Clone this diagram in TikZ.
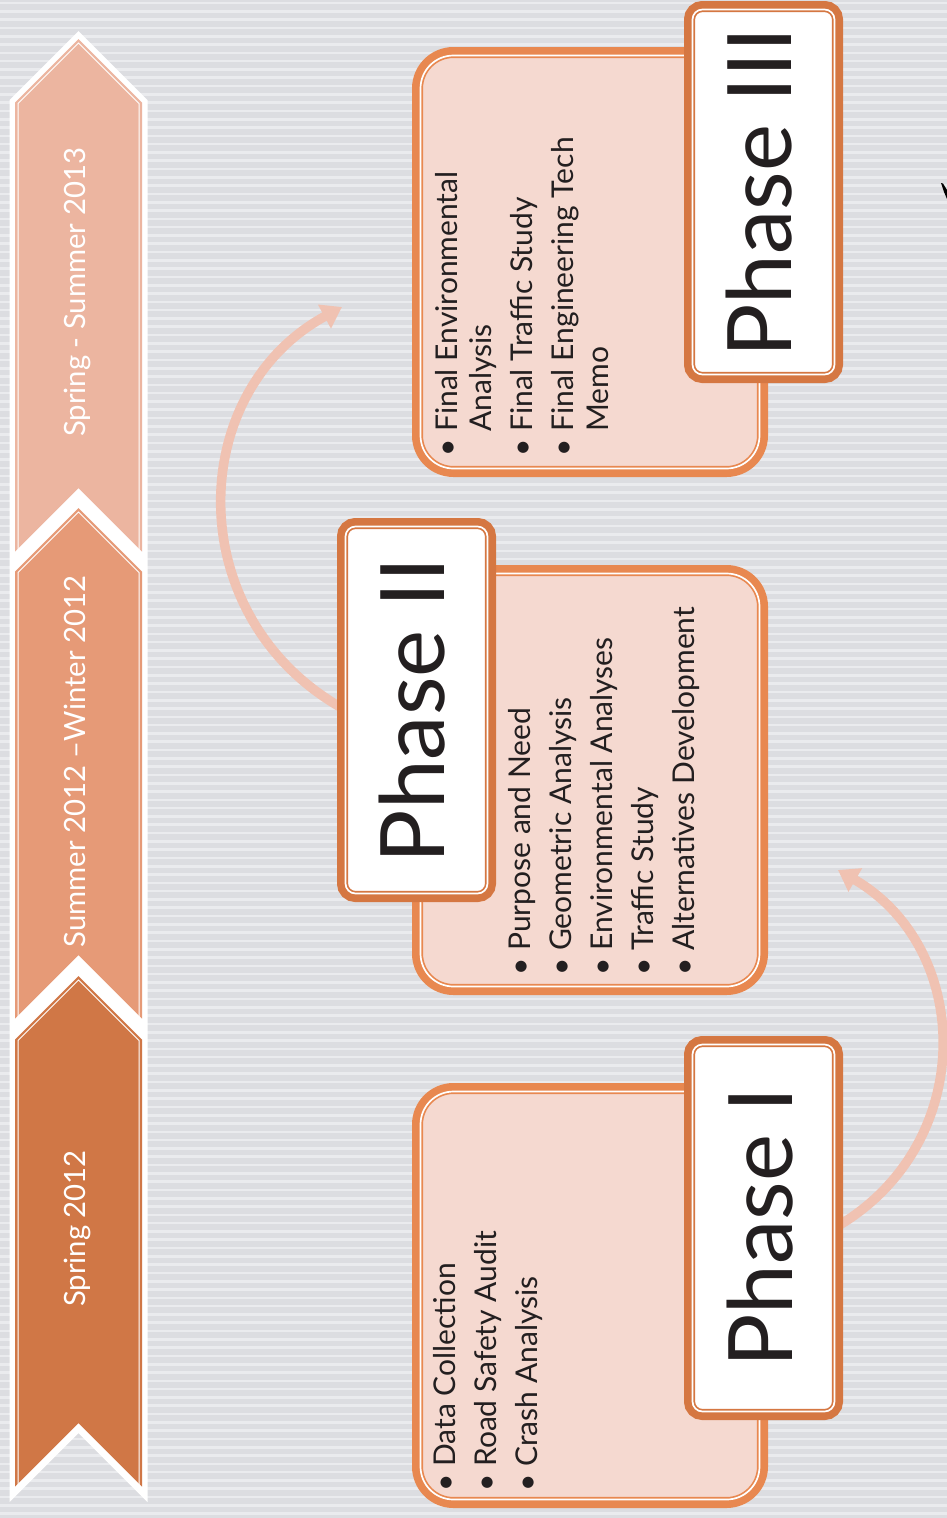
\documentclass[tikz,border=0pt]{standalone}
\usepackage{fontspec}
\setmainfont{Lato}
\usetikzlibrary{arrows.meta}
\definecolor{bggray}{RGB}{220,221,225}
\definecolor{bgstripe}{RGB}{234,235,238}
\definecolor{chevA}{RGB}{236,181,160}
\definecolor{chevB}{RGB}{230,154,119}
\definecolor{chevC}{RGB}{208,119,70}
\definecolor{boxorange}{RGB}{232,136,80}
\definecolor{ttlorange}{RGB}{213,119,66}
\definecolor{boxpink}{RGB}{245,217,208}
\definecolor{arrowpink}{RGB}{240,194,178}
\definecolor{ink}{RGB}{35,31,32}
\pgfdeclarelayer{back}
\pgfdeclarelayer{mid}
\pgfsetlayers{back,mid,main}
\newcommand\bul{\makebox[25pt][l]{\textbullet}}
\begin{document}
\begin{tikzpicture}[x=1pt,y=-1pt,
  contentbox/.style={rectangle, rounded corners=33pt, minimum width=339pt,
    inner sep=0pt, outer sep=0pt, fill=boxpink, draw=boxorange, line width=1.7pt,
    double=white, double distance=1.7pt,
    preaction={draw=boxorange, line width=17pt}},
  titlebox/.style={rectangle, rounded corners=10pt, minimum width=142pt,
    minimum height=367pt, inner sep=0pt, outer sep=0pt, fill=white, draw=ttlorange,
    line width=1.7pt, double=white, double distance=1.7pt,
    preaction={draw=ttlorange, line width=17pt}},
  titletext/.style={rotate=90, anchor=base, inner sep=0pt, text=ink,
    font=\fontsize{89}{89}\selectfont},
  listtext/.style={rotate=90, anchor=base west, inner sep=0pt, text=ink,
    font=\fontsize{30}{30}\selectfont},
  chevtext/.style={rotate=90, anchor=base, inner sep=0pt, text=white,
    font=\fontsize{29.3}{29.3}\selectfont},
  arr/.style={draw=arrowpink, line width=9.5pt, -{Triangle[length=20pt,width=26pt]}}
]
\useasboundingbox (0,0) rectangle (947,1518);
\begin{pgfonlayer}{back}
  \fill[bggray] (0,0) rectangle (947,1518);
  \foreach \i in {0,...,183}
    \draw[bgstripe, line width=2.6pt] (0,{3+8.3*\i}) -- (947,{3+8.3*\i});
  % white column
  \fill[white] (9.5,100) -- (78.5,31) -- (147.5,100) -- (147.5,1502) -- (78.5,1433) -- (9.5,1502) -- cycle;
  % chevron A (top)
  \fill[chevA] (15,102.5) -- (78.5,39) -- (142,102.5) -- (142,551.5) -- (78.5,488) -- (15,551.5) -- cycle;
  \draw[white, line width=1pt] (18,103.5) -- (78.5,43) -- (139,103.5) -- (139,552.5) -- (78.5,492) -- (18,552.5) -- cycle;
  % chevron B (middle)
  \fill[chevB] (15,571.5) -- (78.5,508) -- (142,571.5) -- (142,1018.5) -- (78.5,955) -- (15,1018.5) -- cycle;
  \draw[white, line width=1pt] (18,572.5) -- (78.5,512) -- (139,572.5) -- (139,1019.5) -- (78.5,959) -- (18,1019.5) -- cycle;
  % chevron C (bottom)
  \fill[chevC] (15,1039.5) -- (78.5,976) -- (142,1039.5) -- (142,1486.5) -- (78.5,1423) -- (15,1486.5) -- cycle;
  \draw[white, line width=1pt] (18,1040.5) -- (78.5,980) -- (139,1040.5) -- (139,1487.5) -- (78.5,1427) -- (18,1487.5) -- cycle;
  % fragment at right edge
  \fill[black] (941,183) -- (943,183.5) -- (947,190) -- (947,199) -- (944,192) -- cycle;
\end{pgfonlayer}

\node[chevtext] (c3) at (85,292.5) {Spring - Summer 2013};
\node[chevtext] (c2) at (85,761.5) {Summer 2012 –Winter 2012};
\node[chevtext] (c1) at (85,1228.5) {Spring 2012};

% content boxes
\node[contentbox, minimum height=408pt] (P1) at (590,1295.5) {};
\node[contentbox, minimum height=413pt] (P2) at (590,780) {};
\node[contentbox, minimum height=413pt] (P3) at (590,262) {};

% title boxes
\node[titlebox] (T1) at (763.5,1228) {};
\node[titlebox] (T2) at (416.5,710) {};
\node[titlebox, minimum height=365pt] (T3) at (763.5,192) {};

\node[titletext] (t1) at (792,1227.5) {Phase I};
\node[titletext] (t2) at (444,710.5) {Phase II};
\node[titletext] (t3) at (791,192.5) {Phase III};

% lists
\node[listtext] (l11) at (455,1492) {\bul Data Collection};
\node[listtext] (l12) at (496,1492) {\bul Road Safety Audit};
\node[listtext] (l13) at (537,1492) {\bul Crash Analysis};

\node[listtext] (l21) at (530,976) {\bul Purpose and Need};
\node[listtext] (l22) at (571,976) {\bul Geometric Analysis};
\node[listtext] (l23) at (612,976) {\bul Environmental Analyses};
\node[listtext] (l24) at (653,976) {\bul Traffic Study};
\node[listtext] (l25) at (694,976) {\bul Alternatives Development};

\node[listtext] (l31) at (457,457) {\bul Final Environmental};
\node[listtext] (l32) at (491,432) {Analysis};
\node[listtext] (l33) at (532,457) {\bul Final Traffic Study};
\node[listtext] (l34) at (573,457) {\bul Final Engineering Tech};
\node[listtext] (l35) at (608,432) {Memo};

\coordinate (a1end) at (838,870);
\coordinate (a2end) at (342,307);
\begin{pgfonlayer}{mid}
  \draw[arr] (T1.east) .. controls (978,1146) and (974,949) .. (a1end);
  \draw[arr] (T2.west) .. controls (181,620) and (184,393) .. (a2end);
\end{pgfonlayer}
\end{tikzpicture}
\end{document}
